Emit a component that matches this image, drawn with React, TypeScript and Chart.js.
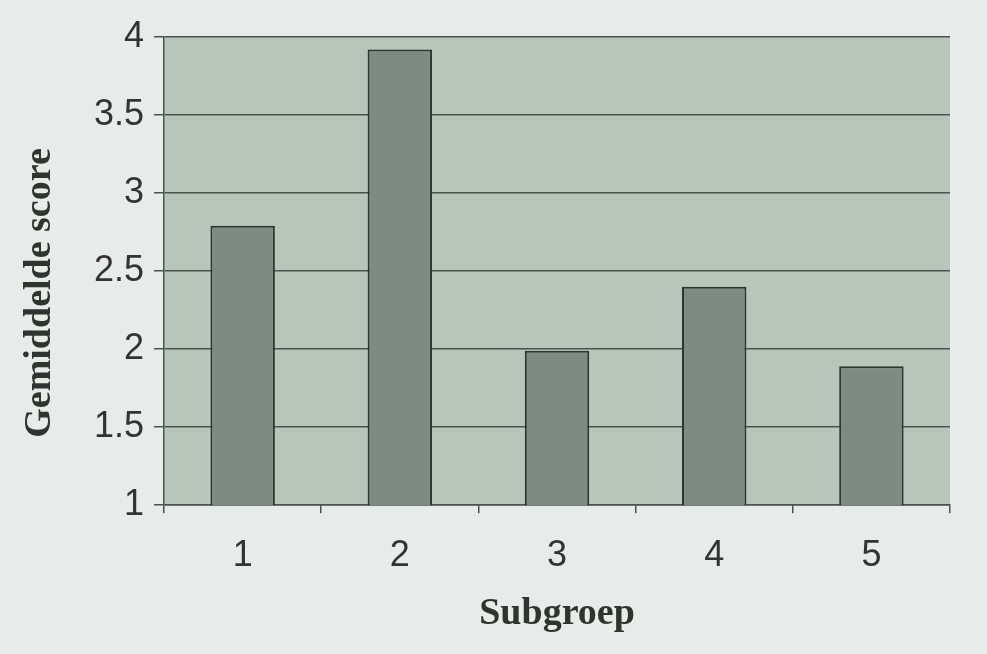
import React, { useEffect, useRef } from 'react'
import Chart, { ChartConfiguration, Plugin } from 'chart.js/auto'

const subgroups = ['1', '2', '3', '4', '5']
const meanScores = [2.79, 3.92, 1.99, 2.4, 1.89]
const yTicks = [1, 1.5, 2, 2.5, 3, 3.5, 4]
const yTitle = 'Gemiddelde score'
const xTitle = 'Subgroep'

const titleFont = 'bold 38px "Liberation Serif", "Times New Roman", serif'

// plot area fill + the y title, which sits a bit below the plot's middle in the original
const plotBackground: Plugin<'bar'> = {
  id: 'plotBackground',
  beforeDraw(chart) {
    const { ctx, chartArea } = chart
    ctx.save()
    ctx.fillStyle = '#b7c5bb'
    ctx.fillRect(chartArea.left, chartArea.top, chartArea.width, chartArea.height)
    ctx.restore()
  },
  afterDraw(chart) {
    const { ctx } = chart
    ctx.save()
    ctx.translate(40, 293)
    ctx.rotate(-Math.PI / 2)
    ctx.font = titleFont
    ctx.fillStyle = '#2e3530'
    ctx.textAlign = 'center'
    ctx.textBaseline = 'middle'
    ctx.fillText(yTitle, 0, 0)
    ctx.restore()
  },
}

const App: React.FC = () => {
  const canvasRef = useRef<HTMLCanvasElement | null>(null)
  const chartRef = useRef<Chart | null>(null)

  useEffect(() => {
    if (!canvasRef.current) return
    if (chartRef.current) chartRef.current.destroy()

    const config: ChartConfiguration<'bar'> = {
      type: 'bar',
      data: {
        labels: subgroups,
        datasets: [
          {
            data: meanScores,
            backgroundColor: '#7e8b84',
            borderColor: '#2c352f',
            borderWidth: 2,
            borderSkipped: false,
            barPercentage: 0.82,
            categoryPercentage: 0.5,
          },
        ],
      },
      options: {
        animation: false,
        responsive: false,
        maintainAspectRatio: false,
        layout: { padding: { top: 37, right: 37, left: 84, bottom: 17 } },
        plugins: {
          legend: { display: false },
          tooltip: { enabled: false },
        },
        scales: {
          x: {
            offset: true,
            grid: {
              offset: true,
              drawOnChartArea: false,
              drawTicks: true,
              tickLength: 8,
              color: '#4a524d',
              lineWidth: 1.5,
            },
            border: { display: true, color: '#4a524d', width: 1.5 },
            ticks: {
              color: '#333',
              padding: 21,
              font: { family: 'Liberation Sans, Arial, sans-serif', size: 36 },
            },
            title: {
              display: true,
              text: xTitle,
              color: '#2e3530',
              padding: { top: -7, bottom: 0 },
              font: { family: 'Liberation Serif, Times New Roman, serif', size: 38, weight: 'bold' },
            },
          },
          y: {
            min: 1,
            max: 4,
            afterBuildTicks(axis) {
              axis.ticks = yTicks.map((v) => ({ value: v }))
            },
            grid: {
              color: '#4a524d',
              lineWidth: 1.5,
              tickLength: 10,
            },
            border: { display: true, color: '#4a524d', width: 1.5 },
            ticks: {
              color: '#333',
              padding: 10,
              callback: (v) => String(v),
              font: { family: 'Liberation Sans, Arial, sans-serif', size: 36 },
            },
          },
        },
      },
      plugins: [plotBackground],
    }

    chartRef.current = new Chart(canvasRef.current, config)

    return () => {
      if (chartRef.current) chartRef.current.destroy()
    }
  }, [])

  return (
    <div style={{ position: 'absolute', left: 0, top: 0, width: 987, height: 654, background: '#e7ebe9' }}>
      <canvas ref={canvasRef} width={987} height={654} />
    </div>
  )
}

export default App
